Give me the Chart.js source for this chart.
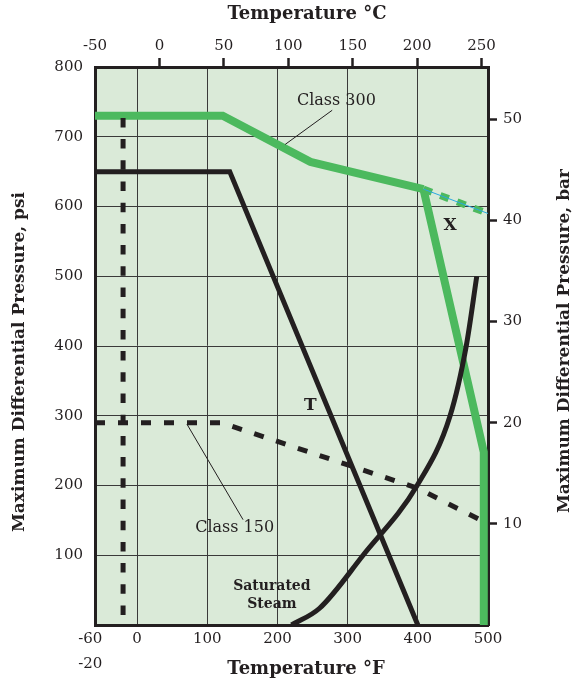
<!DOCTYPE html>
<html>
<head>
<meta charset="utf-8">
<script src="https://cdn.jsdelivr.net/npm/chart.js@4/dist/chart.umd.min.js"></script>
<style>
  html, body { margin: 0; padding: 0; background: #ffffff; }
  canvas { display: block; }
</style>
</head>
<body>
<canvas id="chart" width="585" height="684"></canvas>
<script>
// Temperature in °F, pressure in psi
const class300F   = [-60, 122, 247, 408];
const class300Psi = [730, 730, 664, 625];
const class300ExtF   = [408, 500];
const class300ExtPsi = [625, 590];
const xLineF   = [408, 494, 494];
const xLinePsi = [625, 248, 0];
const tLineF   = [-60, 132, 400];
const tLinePsi = [650, 650, 0];
const class150F   = [-60, 120, 400, 500];
const class150Psi = [290, 290, 196, 145];
const minTempF   = [-20, -20];
const minTempPsi = [727, 0];
const steamF   = [220, 260, 322, 399, 446, 469, 484];
const steamPsi = [0, 24, 100, 200, 300, 400, 500];

// leader lines for the class labels
const leader300F   = [278, 211];
const leader300Psi = [738, 689];
const leader150F   = [71, 151];
const leader150Psi = [288, 151];

// axis ticks
const fTicks   = [-60, 0, 100, 200, 300, 400, 500];
const cTicks   = [-50, 0, 50, 100, 150, 200, 250];
const psiTicks = [100, 200, 300, 400, 500, 600, 700, 800];
const barTicks = [10, 20, 30, 40, 50];
const PSI_PER_BAR = 14.5;

const GREEN = '#4CB95E';
const INK = '#231F20';
const SERIF = "'DejaVu Serif', serif";

const pts = (xs, ys) => xs.map((x, i) => ({ x: x, y: ys[i] }));

function line(label, xs, ys, color, width, extra) {
  return Object.assign({
    label: label,
    data: pts(xs, ys),
    borderColor: color,
    backgroundColor: color,
    borderWidth: width,
    pointRadius: 0,
    fill: false,
    tension: 0,
    xAxisID: 'x',
    yAxisID: 'y'
  }, extra || {});
}

const datasets = [
  line('Class 300 leader', leader300F, leader300Psi, INK, 1),
  line('Class 150 leader', leader150F, leader150Psi, INK, 1),
  line('Saturated Steam', steamF, steamPsi, INK, 5, { cubicInterpolationMode: 'monotone' }),
  line('Class 150', class150F, class150Psi, INK, 5, { borderDash: [10, 13] }),
  line('T', tLineF, tLinePsi, INK, 5),
  line('-20 °F', minTempF, minTempPsi, INK, 5, { borderDash: [9.5, 11.7] }),
  line('Class 300 ext guide', class300ExtF, class300ExtPsi, '#29A9E0', 1),
  line('Class 300 ext', class300ExtF, class300ExtPsi, GREEN, 7, { borderDash: [9, 9] }),
  line('X', xLineF, xLinePsi, GREEN, 8),
  line('Class 300', class300F, class300Psi, GREEN, 8)
];

// plot background and text annotations
const decor = {
  id: 'decor',
  beforeDraw(chart) {
    const a = chart.chartArea, ctx = chart.ctx;
    ctx.save();
    ctx.fillStyle = '#DAEAD8';
    ctx.fillRect(a.left, a.top, a.right - a.left, a.bottom - a.top);
    ctx.restore();
  },
  afterDatasetsDraw(chart) {
    const ctx = chart.ctx, sx = chart.scales.x, sy = chart.scales.y;
    const put = (txt, f, p, font) => {
      ctx.font = font;
      ctx.fillText(txt, sx.getPixelForValue(f), sy.getPixelForValue(p));
    };
    ctx.save();
    ctx.fillStyle = INK;
    ctx.textAlign = 'center';
    ctx.textBaseline = 'middle';
    put('Class 300', 284, 752, '16px ' + SERIF);
    put('Class 150', 139, 139, '16px ' + SERIF);
    put('T', 247, 315, 'bold 17px ' + SERIF);
    put('X', 446, 573, 'bold 17px ' + SERIF);
    put('Saturated', 192, 56, 'bold 14px ' + SERIF);
    put('Steam', 192, 29, 'bold 14px ' + SERIF);
    ctx.restore();
  },
  afterDraw(chart) {
    const ctx = chart.ctx;
    ctx.save();
    ctx.fillStyle = INK;
    ctx.font = 'bold 18px ' + SERIF;
    ctx.textAlign = 'center';
    ctx.textBaseline = 'middle';
    ctx.fillText('Temperature °C', 307, 14);
    ctx.fillText('Temperature °F', 306, 669);
    ctx.font = 'bold 17px ' + SERIF;
    ctx.translate(20, 362);
    ctx.rotate(-Math.PI / 2);
    ctx.fillText('Maximum Differential Pressure, psi', 0, 0);
    ctx.restore();
    ctx.save();
    ctx.fillStyle = INK;
    ctx.font = 'bold 17px ' + SERIF;
    ctx.textAlign = 'center';
    ctx.textBaseline = 'middle';
    ctx.translate(565, 341);
    ctx.rotate(-Math.PI / 2);
    ctx.fillText('Maximum Differential Pressure, bar', 0, 0);
    ctx.restore();
  }
};

const tickFont = { family: SERIF, size: 15 };
const border = { display: true, color: INK, width: 3 };
const fixTicks = (vals) => (scale) => { scale.ticks = vals.map(v => ({ value: v })); };

new Chart(document.getElementById('chart'), {
  type: 'line',
  data: { datasets: datasets },
  plugins: [decor],
  options: {
    responsive: false,
    animation: false,
    devicePixelRatio: 1,
    layout: { padding: 0 },
    plugins: { legend: { display: false }, tooltip: { enabled: false } },
    scales: {
      x: {
        type: 'linear', position: 'bottom', min: -60, max: 500,
        afterBuildTicks: fixTicks(fTicks),
        afterFit: (s) => { s.height = 59; },
        border: border,
        grid: {
          drawTicks: false,
          color: (c) => (c.tick && (c.tick.value === -60 || c.tick.value === 500)) ? 'rgba(0,0,0,0)' : '#3a3a3a',
          lineWidth: 1
        },
        ticks: {
          color: INK, padding: 2, maxRotation: 0, autoSkip: false,
          font: { family: SERIF, size: 15, lineHeight: 1.65 },
          callback: (v) => v === -60 ? ['-60  ', '-20  '] : String(v)
        }
      },
      x2: {
        type: 'linear', position: 'top', min: -50, max: 255,
        afterBuildTicks: fixTicks(cTicks),
        afterFit: (s) => { s.height = 67; },
        border: border,
        grid: {
          drawOnChartArea: false, drawTicks: true, tickLength: 9, tickWidth: 2.5,
          tickColor: (c) => (c.tick && c.tick.value === -50) ? 'rgba(0,0,0,0)' : INK
        },
        ticks: { color: INK, padding: 3, maxRotation: 0, autoSkip: false, font: tickFont }
      },
      y: {
        type: 'linear', position: 'left', min: 0, max: 800,
        afterBuildTicks: fixTicks(psiTicks),
        afterFit: (s) => { s.width = 95; },
        border: border,
        grid: {
          drawTicks: false,
          color: (c) => (c.tick && c.tick.value === 800) ? 'rgba(0,0,0,0)' : '#3a3a3a',
          lineWidth: 1
        },
        ticks: { color: INK, padding: 12, autoSkip: false, font: tickFont }
      },
      y2: {
        type: 'linear', position: 'right', min: 0, max: 800 / PSI_PER_BAR,
        afterBuildTicks: fixTicks(barTicks),
        afterFit: (s) => { s.width = 97; },
        border: border,
        grid: { drawOnChartArea: false, drawTicks: true, tickLength: 9, tickWidth: 2.5, tickColor: INK },
        ticks: { color: INK, padding: 6, autoSkip: false, font: tickFont }
      }
    }
  }
});
</script>
</body>
</html>
